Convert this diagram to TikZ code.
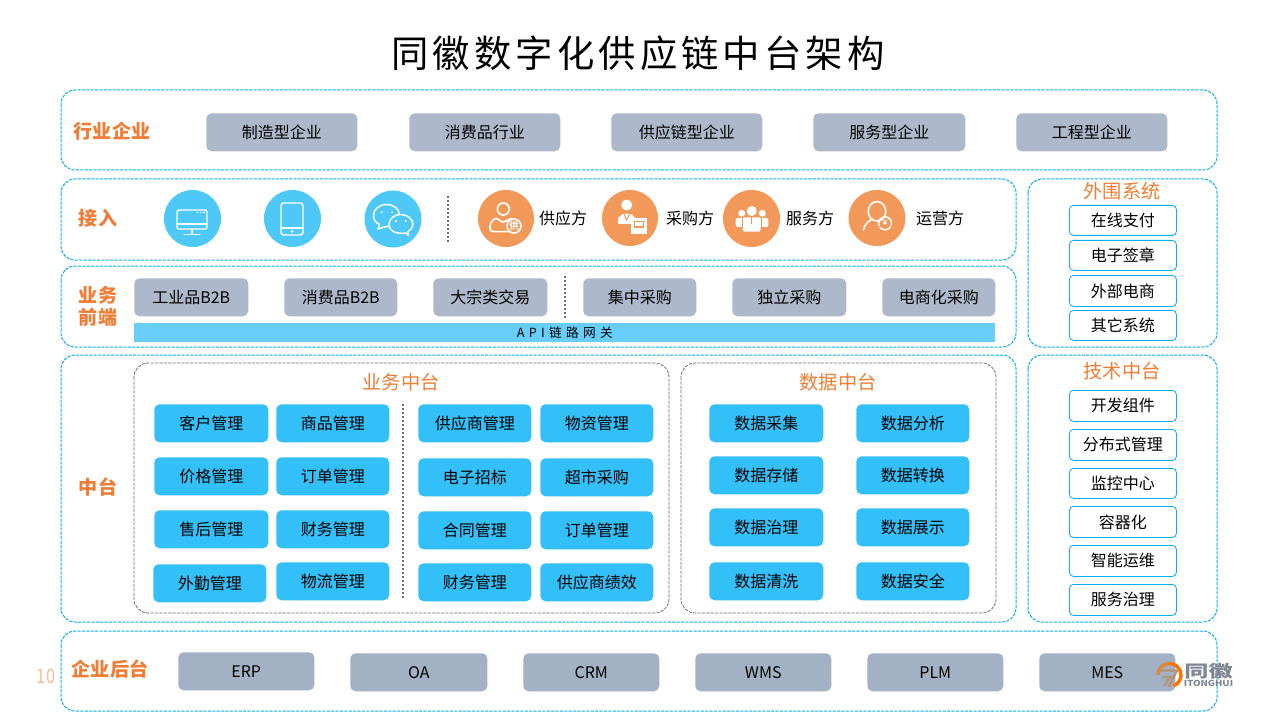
\documentclass[tikz,border=0pt]{standalone}
\usepackage{fontspec}
\setmainfont{Noto Sans CJK SC}
\usetikzlibrary{calc}
\definecolor{dashblue}{HTML}{0AAEEC}
\definecolor{org}{HTML}{F07D33}
\definecolor{lorg}{HTML}{F2995A}
\definecolor{sky}{HTML}{4DC8F7}
\definecolor{blu}{HTML}{33BFF7}
\definecolor{gr}{HTML}{ADB8CA}
\definecolor{gr2}{HTML}{A2B1C4}
\definecolor{api}{HTML}{66CEF8}
\definecolor{dg}{HTML}{6E6E6E}
\definecolor{logog}{HTML}{7F8794}
\tikzset{
 x=0.75pt,y=-0.75pt,
 pane/.style={draw=dashblue,dash pattern=on 2.4pt off 0.9pt,line width=0.75pt,rounded corners=10.5pt,fill=white},
 inner pane/.style={draw=dg,dash pattern=on 2.4pt off 0.9pt,line width=0.6pt,rounded corners=10.5pt},
 sep/.style={draw=dg,line width=1.1pt,dash pattern=on 1.5pt off 1.5pt},
 lab/.style={font=\fontsize{14.3}{16.5}\selectfont\bfseries,text=org,align=center,inner sep=0},
 ttl/.style={font=\fontsize{14.4}{17}\selectfont,text=org,inner sep=0},
 txt/.style={font=\fontsize{12}{14}\selectfont,inner sep=0,text=black},
 ico/.style={draw=white,line width=1.1pt,line join=round,line cap=round},
 b/.style={draw=none,rounded corners=4pt,inner sep=0,font=\fontsize{12}{14}\selectfont,text=black},
 grb/.style={b,fill=gr},
 grc/.style={b,fill=gr2},
 blb/.style={b,fill=blu},
 whb/.style={b,draw=dashblue,line width=0.6pt,fill=white,rounded corners=3pt},
}
\newcommand{\bx}[7]{\node[#6,minimum width={(#4-#2)*0.75pt},minimum height={(#5-#3)*0.75pt},anchor=north west] (#1) at (#2,#3) {#7};}
\newcommand{\pn}[6]{\draw[#6] (#2,#3) rectangle (#4,#5) node[pos=0.5,inner sep=0] (#1) {};}
\begin{document}
\begin{tikzpicture}
\useasboundingbox (0,0) rectangle (1280,720);
\fill[white] (0,0) rectangle (1280,720);
\node[inner sep=0,font=\fontsize{28}{32}\selectfont\addfontfeature{LetterSpace=11}] (title) at (638,53) {同徽数字化供应链中台架构};
\node[inner sep=0,font=\fontsize{15}{17}\selectfont,text=lorg!65] (pg) at (46,676) {\scalebox{.82}[1]{10}};
% panes
\pn{p1}{61}{90}{1217}{170}{pane}
\pn{p2}{61}{179}{1016}{260}{pane}
\pn{p3}{61}{266}{1016}{347}{pane}
\pn{p4}{61}{355}{1016}{622}{pane}
\pn{p5}{61}{631}{1217}{711}{pane}
\pn{p6}{1028}{179}{1217}{347}{pane}
\pn{p7}{1028}{355}{1217}{622}{pane}
\pn{p8}{134}{363}{669}{613}{inner pane}
\pn{p9}{681}{363}{996}{613}{inner pane}
% labels
\node[lab] (l1) at (112,131) {行业企业};
\node[lab] (l2) at (98,218) {接入};
\node[lab] (l3) at (98,306) {业务\\前端};
\node[lab] (l4) at (98,487) {中台};
\node[lab] (l5) at (110,669) {企业后台};
\node[ttl] (t1) at (401,382.5) {业务中台};
\node[ttl] (t2) at (838,382.5) {数据中台};
\node[ttl] (t3) at (1122,191) {外围系统};
\node[ttl] (t4) at (1122,371) {技术中台};
% row 1
\bx{a1}{206}{113}{357}{151}{grb}{制造型企业}
\bx{a2}{409}{113}{560}{151}{grb}{消费品行业}
\bx{a3}{611}{113}{762}{151}{grb}{供应链型企业}
\bx{a4}{813}{113}{965}{151}{grb}{服务型企业}
\bx{a5}{1016}{113}{1167}{151}{grb}{工程型企业}
% row 2 circles
\fill[sky] (192.5,218.5) ellipse (28.5 and 28.5);
\fill[sky] (292.5,218.5) ellipse (28.5 and 28.5);
\fill[sky] (393,219) ellipse (28.5 and 28.5);
\fill[lorg] (506,218.5) ellipse (28 and 28.5);
\fill[lorg] (630,218) ellipse (28 and 28);
\fill[lorg] (751.5,218.5) ellipse (28.5 and 28.5);
\fill[lorg] (877,218) ellipse (28.5 and 28);
% monitor
\draw[ico,rounded corners=1.5pt] (177,210) rectangle (207,229);
\draw[ico] (177,224) -- (207,224) (192,229) -- (192,234) (184,234.5) -- (200,234.5);
\fill[white] (197.5,212.5) circle (.8) (201,212.5) circle (.8) (204,212.5) circle (.8);
% phone
\draw[ico,rounded corners=2pt] (281,203) rectangle (303,235);
\draw[ico] (281,228) -- (303,228);
\fill[white] (292,231.5) circle (1.5);
% chat
\draw[ico] (379.5,224.5) -- (378,229) -- (385,226.8) .. controls (393,227) and (399.5,222) .. (399.5,215.5) .. controls (399.5,209) and (394,204.5) .. (386.5,204.5) .. controls (379,204.5) and (373.5,209.5) .. (373.5,215.5) .. controls (373.5,219.5) and (376,223) .. (379.5,224.5);
\draw[ico,fill=sky] (406,233) -- (408.5,235.5) -- (408,231.5) .. controls (411,229.5) and (413,227) .. (413,224.5) .. controls (413,219) and (407.5,214.5) .. (400.5,214.5) .. controls (394,214.5) and (389,219) .. (389,224.5) .. controls (389,230) and (394,234.5) .. (406,233);
\fill[white] (381.7,212.3) circle (1.1) (392.3,212.3) circle (1.1) (396,221) circle (1.1) (405.7,221) circle (1.1);
\draw[sep] (448,196) -- (448,242);
% supplier icon
\draw[ico,line width=1.2pt] (503.3,209) circle (6);
\draw[ico,line width=1.2pt] (510,231.7) -- (494,231.7) .. controls (491,231.7) and (489.5,230) .. (490,226.5) .. controls (490.5,222) and (492.5,220) .. (496,218.3) -- (503.3,222.3) -- (511.5,218.3);
\draw[ico,line width=1.2pt,fill=lorg] (514,226) circle (7);
\node[inner sep=0,text=white,font=\fontsize{7}{7}\selectfont\bfseries] (sup) at (514,226) {供};
% buyer icon
\fill[white] (626.7,205) circle (5.5);
\fill[white] (618,224) -- (618,218) -- (622,214.5) -- (626.7,213.5) -- (632,214.5) -- (635,218) -- (631,218) -- (631,224) -- cycle;
\draw[lorg,line width=.7pt] (624,214) -- (626.7,220) -- (629.5,214);
\fill[white] (631,218) rectangle (647,234);
\draw[lorg,line width=.8pt] (633,221.5) -- (645,221.5) (634.5,221.5) -- (634.5,227) -- (643.5,227) -- (643.5,221.5);
% service icon
\fill[white] (741.7,213.3) circle (3.5) (762.3,213.3) circle (3.5) (751.7,211) circle (5);
\fill[white,rounded corners=1.5pt] (735.7,218) rectangle (743,227) (760,218) rectangle (768.3,227) (742.7,217.3) rectangle (760.7,231.7);
\draw[lorg,line width=.8pt] (742.2,217.5) -- (742.2,228) (761.2,217.5) -- (761.2,228);
\draw[lorg,line width=.8pt] (751.7,217.5) -- (751.7,224);
% operator icon
\draw[ico,line width=1.2pt] (877,211.3) ellipse (8.8 and 9.7);
\draw[ico,line width=1.2pt] (863.5,230) .. controls (864,226) and (867,222) .. (871.5,219.5);
\draw[ico,line width=1.1pt,dash pattern=on 9pt off 1.5pt] (885,216.8) arc (270:620:6.5);
\node[inner sep=0,text=white,font=\fontsize{5.5}{6}\selectfont\bfseries] (opy) at (885,223.3) {¥};
\node[txt] (r1) at (563,218) {供应方};
\node[txt] (r2) at (690,218) {采购方};
\node[txt] (r3) at (810,218) {服务方};
\node[txt] (r4) at (940,218) {运营方};
% row 3
\bx{c1}{134}{278}{248}{316}{grb}{工业品B2B}
\bx{c2}{284}{278}{397}{316}{grb}{消费品B2B}
\bx{c3}{433}{278}{547}{316}{grb}{大宗类交易}
\bx{c4}{583}{278}{696}{316}{grb}{集中采购}
\bx{c5}{732}{278}{846}{316}{grb}{独立采购}
\bx{c6}{882}{278}{995}{316}{grb}{电商化采购}
\draw[sep] (565,276) -- (565,318);
\bx{apibar}{134}{323}{995}{342}{b,fill=api,rounded corners=0pt,font=\fontsize{9.5}{11}\selectfont\addfontfeature{LetterSpace=34}}{API链路网关}
% business
\bx{d1}{154}{404}{268}{442}{blb}{客户管理}
\bx{d2}{276}{404}{389}{442}{blb}{商品管理}
\bx{d3}{154}{457}{268}{495}{blb}{价格管理}
\bx{d4}{276}{457}{389}{495}{blb}{订单管理}
\bx{d5}{154}{510}{268}{548}{blb}{售后管理}
\bx{d6}{276}{510}{389}{548}{blb}{财务管理}
\bx{d7}{153}{564}{266}{602}{blb}{外勤管理}
\bx{d8}{276}{562}{389}{600}{blb}{物流管理}
\draw[sep] (403,404) -- (403,598);
\bx{e1}{418}{404}{531}{442}{blb}{供应商管理}
\bx{e2}{540}{404}{653}{442}{blb}{物资管理}
\bx{e3}{418}{458}{531}{496}{blb}{电子招标}
\bx{e4}{540}{458}{653}{496}{blb}{超市采购}
\bx{e5}{418}{511}{531}{549}{blb}{合同管理}
\bx{e6}{540}{511}{653}{549}{blb}{订单管理}
\bx{e7}{418}{563}{531}{601}{blb}{财务管理}
\bx{e8}{540}{563}{653}{601}{blb}{供应商绩效}
% data
\bx{f1}{709}{404}{823}{442}{blb}{数据采集}
\bx{f2}{856}{404}{969}{442}{blb}{数据分析}
\bx{f3}{709}{456}{823}{494}{blb}{数据存储}
\bx{f4}{856}{456}{969}{494}{blb}{数据转换}
\bx{f5}{709}{508}{823}{546}{blb}{数据治理}
\bx{f6}{856}{508}{969}{546}{blb}{数据展示}
\bx{f7}{709}{562}{823}{600}{blb}{数据清洗}
\bx{f8}{856}{562}{969}{600}{blb}{数据安全}
% right
\bx{g1}{1069}{205}{1176}{235}{whb}{在线支付}
\bx{g2}{1069}{240}{1176}{270}{whb}{电子签章}
\bx{g3}{1069}{275}{1176}{306}{whb}{外部电商}
\bx{g4}{1069}{310}{1176}{340}{whb}{其它系统}
\bx{h1}{1069}{390}{1176}{421}{whb}{开发组件}
\bx{h2}{1069}{429}{1176}{460}{whb}{分布式管理}
\bx{h3}{1069}{468}{1176}{498}{whb}{监控中心}
\bx{h4}{1069}{506}{1176}{537}{whb}{容器化}
\bx{h5}{1069}{545}{1176}{576}{whb}{智能运维}
\bx{h6}{1069}{584}{1176}{615}{whb}{服务治理}
% bottom
\bx{i1}{178}{652}{314}{690}{grc}{ERP}
\bx{i2}{350}{653}{487}{691}{grc}{OA}
\bx{i3}{523}{653}{659}{691}{grc}{CRM}
\bx{i4}{695}{653}{831}{691}{grc}{WMS}
\bx{i5}{867}{653}{1003}{691}{grc}{PLM}
\bx{i6}{1039}{653}{1175}{691}{grc}{MES}
% logo
\draw[draw=orange!60!brown!80!gr2,line width=2.6pt] (1158,675) arc (180:275:11.5);
\draw[draw=orange!90!red,line width=2.6pt] (1169.5,663.5) arc (270:430:11.5);
\draw[draw=brown!60!gr2,line width=1.8pt] (1160,670.5) -- (1177,670.5) -- (1168.5,687);
\draw[draw=brown!60!gr2,line width=1.8pt] (1162,677) -- (1170,677) -- (1164,686);
\node[inner sep=0,text=logog,font=\fontsize{12.5}{13}\selectfont\bfseries] (lg) at (1208.5,671.5) {\scalebox{1.45}[1]{同徽}};
\node[inner sep=0,text=logog,font=\fontsize{6.2}{6.5}\selectfont\bfseries] (lg2) at (1208.5,683) {\scalebox{1.16}[1]{ITONGHUI}};
\end{tikzpicture}
\end{document}
